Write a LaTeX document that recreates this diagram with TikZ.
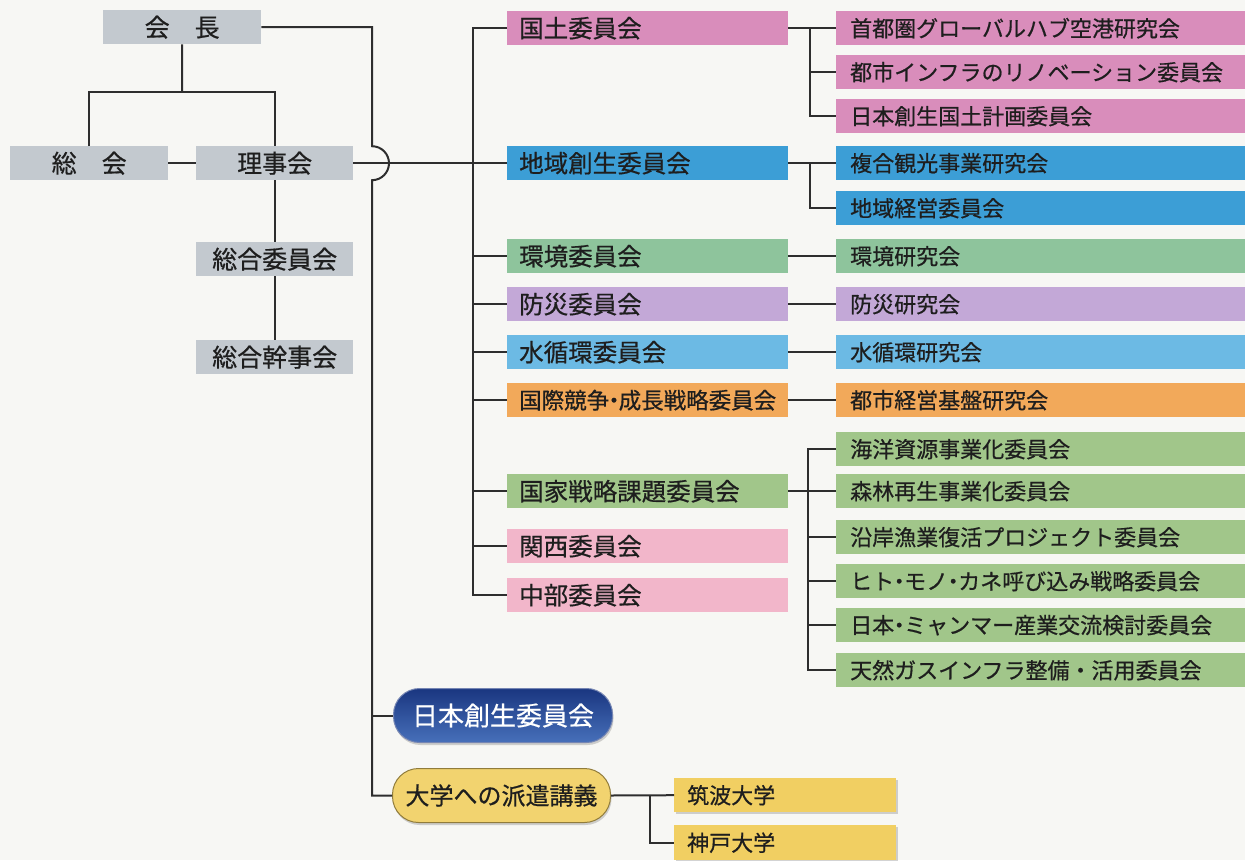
\documentclass[tikz,border=0pt]{standalone}
\usepackage{fontspec}
\newfontfamily\jp[FakeBold=0.6]{Noto Sans CJK JP}
\usetikzlibrary{calc,shadows}
\definecolor{bg}{HTML}{F7F7F4}
\definecolor{grayc}{HTML}{C3C9CF}
\definecolor{pinkA}{HTML}{D98DBB}
\definecolor{blueA}{HTML}{3C9ED6}
\definecolor{greenA}{HTML}{8EC49C}
\definecolor{lav}{HTML}{C3A8D7}
\definecolor{lblue}{HTML}{6CBAE4}
\definecolor{orangeA}{HTML}{F2A95A}
\definecolor{greenB}{HTML}{A1C68A}
\definecolor{pinkB}{HTML}{F2B6CA}
\definecolor{yellowA}{HTML}{F1CF62}
\definecolor{navyT}{HTML}{1A3680}
\definecolor{navyB}{HTML}{4770BA}
\definecolor{linec}{HTML}{2E2E2E}
\definecolor{txt}{HTML}{1E1E1E}
\newcommand{\nd}{\kern-6.5pt・\kern-6.5pt}
\newcommand{\nds}{\kern-6pt・\kern-6pt}
\tikzset{
  base/.style={rectangle, inner sep=0pt, minimum height=34pt, anchor=north west, text=txt},
  grayb/.style={base, fill=grayc, minimum width=158pt, font=\jp\fontsize{25}{25}\selectfont},
  midb/.style={base, minimum width=281pt, text width=257pt, inner xsep=12pt, align=left, font=\jp\fontsize{24.5}{25}\selectfont},
  rightb/.style={base, minimum width=409pt, text width=381pt, inner xsep=14pt, align=left, font=\jp\fontsize{22}{22}\selectfont},
  unib/.style={base, fill=yellowA, minimum width=222pt, text width=196pt, inner xsep=13pt, align=left,
    font=\jp\fontsize{22}{22}\selectfont, drop shadow={opacity=0.35, shadow xshift=1.5pt, shadow yshift=-1.5pt}},
  pill/.style={rectangle, rounded corners=26pt, inner sep=0pt, minimum height=54pt, anchor=north west,
    drop shadow={opacity=0.35, shadow xshift=1pt, shadow yshift=-2.5pt}},
  link/.style={line width=2pt, draw=linec}
}
\begin{document}
\begin{tikzpicture}[x=1pt,y=-1pt]
\fill[bg] (0,0) rectangle (1245,860);
\useasboundingbox (0,0) rectangle (1245,860);

% left column
\node[grayb] (kaicho) at (103,10) {会　長};
\node[grayb] (soukai) at (10,146) {総　会};
\node[grayb, minimum width=157pt] (rijikai) at (196,146) {理事会};
\node[grayb, minimum width=157pt] (sougou) at (196,242) {総合委員会};
\node[grayb, minimum width=157pt] (kanji) at (196,340) {総合幹事会};

% middle column
\node[midb, fill=pinkA] (kokudo) at (507,11) {国土委員会};
\node[midb, fill=blueA] (chiiki) at (507,146) {地域創生委員会};
\node[midb, fill=greenA] (kankyo) at (507,239) {環境委員会};
\node[midb, fill=lav] (bousai) at (507,287) {防災委員会};
\node[midb, fill=lblue] (mizu) at (507,335) {水循環委員会};
\node[midb, fill=orangeA, font=\jp\fontsize{22.5}{23}\selectfont] (kokusai) at (507,383) {国際競争\nd 成長戦略委員会};
\node[midb, fill=greenB] (kokka) at (507,474) {国家戦略課題委員会};
\node[midb, fill=pinkB] (kansai) at (507,529) {関西委員会};
\node[midb, fill=pinkB] (chubu) at (507,578) {中部委員会};

% right column
\node[rightb, fill=pinkA] (r1) at (836,11) {首都圏グローバルハブ空港研究会};
\node[rightb, fill=pinkA] (r2) at (836,55) {都市インフラのリノベーション委員会};
\node[rightb, fill=pinkA] (r3) at (836,99) {日本創生国土計画委員会};
\node[rightb, fill=blueA] (r4) at (836,146) {複合観光事業研究会};
\node[rightb, fill=blueA] (r5) at (836,191) {地域経営委員会};
\node[rightb, fill=greenA] (r6) at (836,239) {環境研究会};
\node[rightb, fill=lav] (r7) at (836,287) {防災研究会};
\node[rightb, fill=lblue] (r8) at (836,335) {水循環研究会};
\node[rightb, fill=orangeA] (r9) at (836,383) {都市経営基盤研究会};
\node[rightb, fill=greenB] (r10) at (836,432) {海洋資源事業化委員会};
\node[rightb, fill=greenB] (r11) at (836,474) {森林再生事業化委員会};
\node[rightb, fill=greenB] (r12) at (836,520) {沿岸漁業復活プロジェクト委員会};
\node[rightb, fill=greenB] (r13) at (836,564) {ヒト\nds モノ\nds カネ呼び込み戦略委員会};
\node[rightb, fill=greenB] (r14) at (836,608) {日本\nds ミャンマー産業交流検討委員会};
\node[rightb, fill=greenB] (r15) at (836,653) {天然ガスインフラ整備・活用委員会};

% bottom
\node[pill, minimum width=219pt, top color=navyT, bottom color=navyB, draw=navyT!60!white, line width=1pt,
      text=white, font=\jp\fontsize{26}{26}\selectfont] (nihon) at (393,688) {日本創生委員会};
\node[pill, minimum width=218pt, fill=yellowA!92!white, draw=yellowA!60!black, line width=1pt,
      text=txt, font=\jp\fontsize{24}{24}\selectfont] (daigaku) at (392,768) {大学への派遣講義};
\node[unib] (tsukuba) at (674,778) {筑波大学};
\node[unib, minimum height=35pt] (kobe) at (674,825) {神戸大学};

% junction coordinates
\coordinate (j1) at (182,92);
\coordinate (tr) at (372,0);
\coordinate (ct) at (473,0);
\coordinate (k1) at (810,0);
\coordinate (k2) at (808,0);
\coordinate (k3) at (650,0);

% left connectors
\draw[link] (kaicho.south) -- (j1);
\draw[link] (soukai.north) |- (j1) -| (rijikai.north);
\draw[link] (soukai.east) -- (rijikai.west);
\draw[link] (rijikai.south) -- (sougou.north);
\draw[link] (sougou.south) -- (kanji.north);

% main trunk with bridge
\draw[link] (kaicho.east) -| ($(rijikai.east -| tr)+(0,-17)$)
  arc[start angle=-90, end angle=90, radius=17] |- (daigaku.west);
\draw[link] (nihon.west -| tr) -- (nihon.west);

% committee trunk
\draw[link] (rijikai.east) -- (chiiki.west);
\draw[link] (kokudo.west) -| (kokudo.west -| ct) |- (chubu.west);
\foreach \n in {kankyo,bousai,mizu,kokusai,kokka,kansai}
  \draw[link] (\n.west -| ct) -- (\n.west);

% right connectors
\draw[link] (kokudo.east) -- (r1.west);
\draw[link] (r1.west -| k1) |- (r3.west);
\draw[link] (r2.west -| k1) -- (r2.west);
\draw[link] (chiiki.east) -- (r4.west);
\draw[link] (r4.west -| k1) |- (r5.west);
\draw[link] (kankyo.east) -- (r6.west);
\draw[link] (bousai.east) -- (r7.west);
\draw[link] (mizu.east) -- (r8.west);
\draw[link] (kokusai.east) -- (r9.west);
\draw[link] (kokka.east) -- (r11.west);
\draw[link] (r10.west) -| (r10.west -| k2) |- (r15.west);
\foreach \n in {r12,r13,r14}
  \draw[link] (\n.west -| k2) -- (\n.west);

% universities
\draw[link] (daigaku.east) -- (tsukuba.west);
\draw[link] (tsukuba.west -| k3) |- (kobe.west);
\end{tikzpicture}
\end{document}
